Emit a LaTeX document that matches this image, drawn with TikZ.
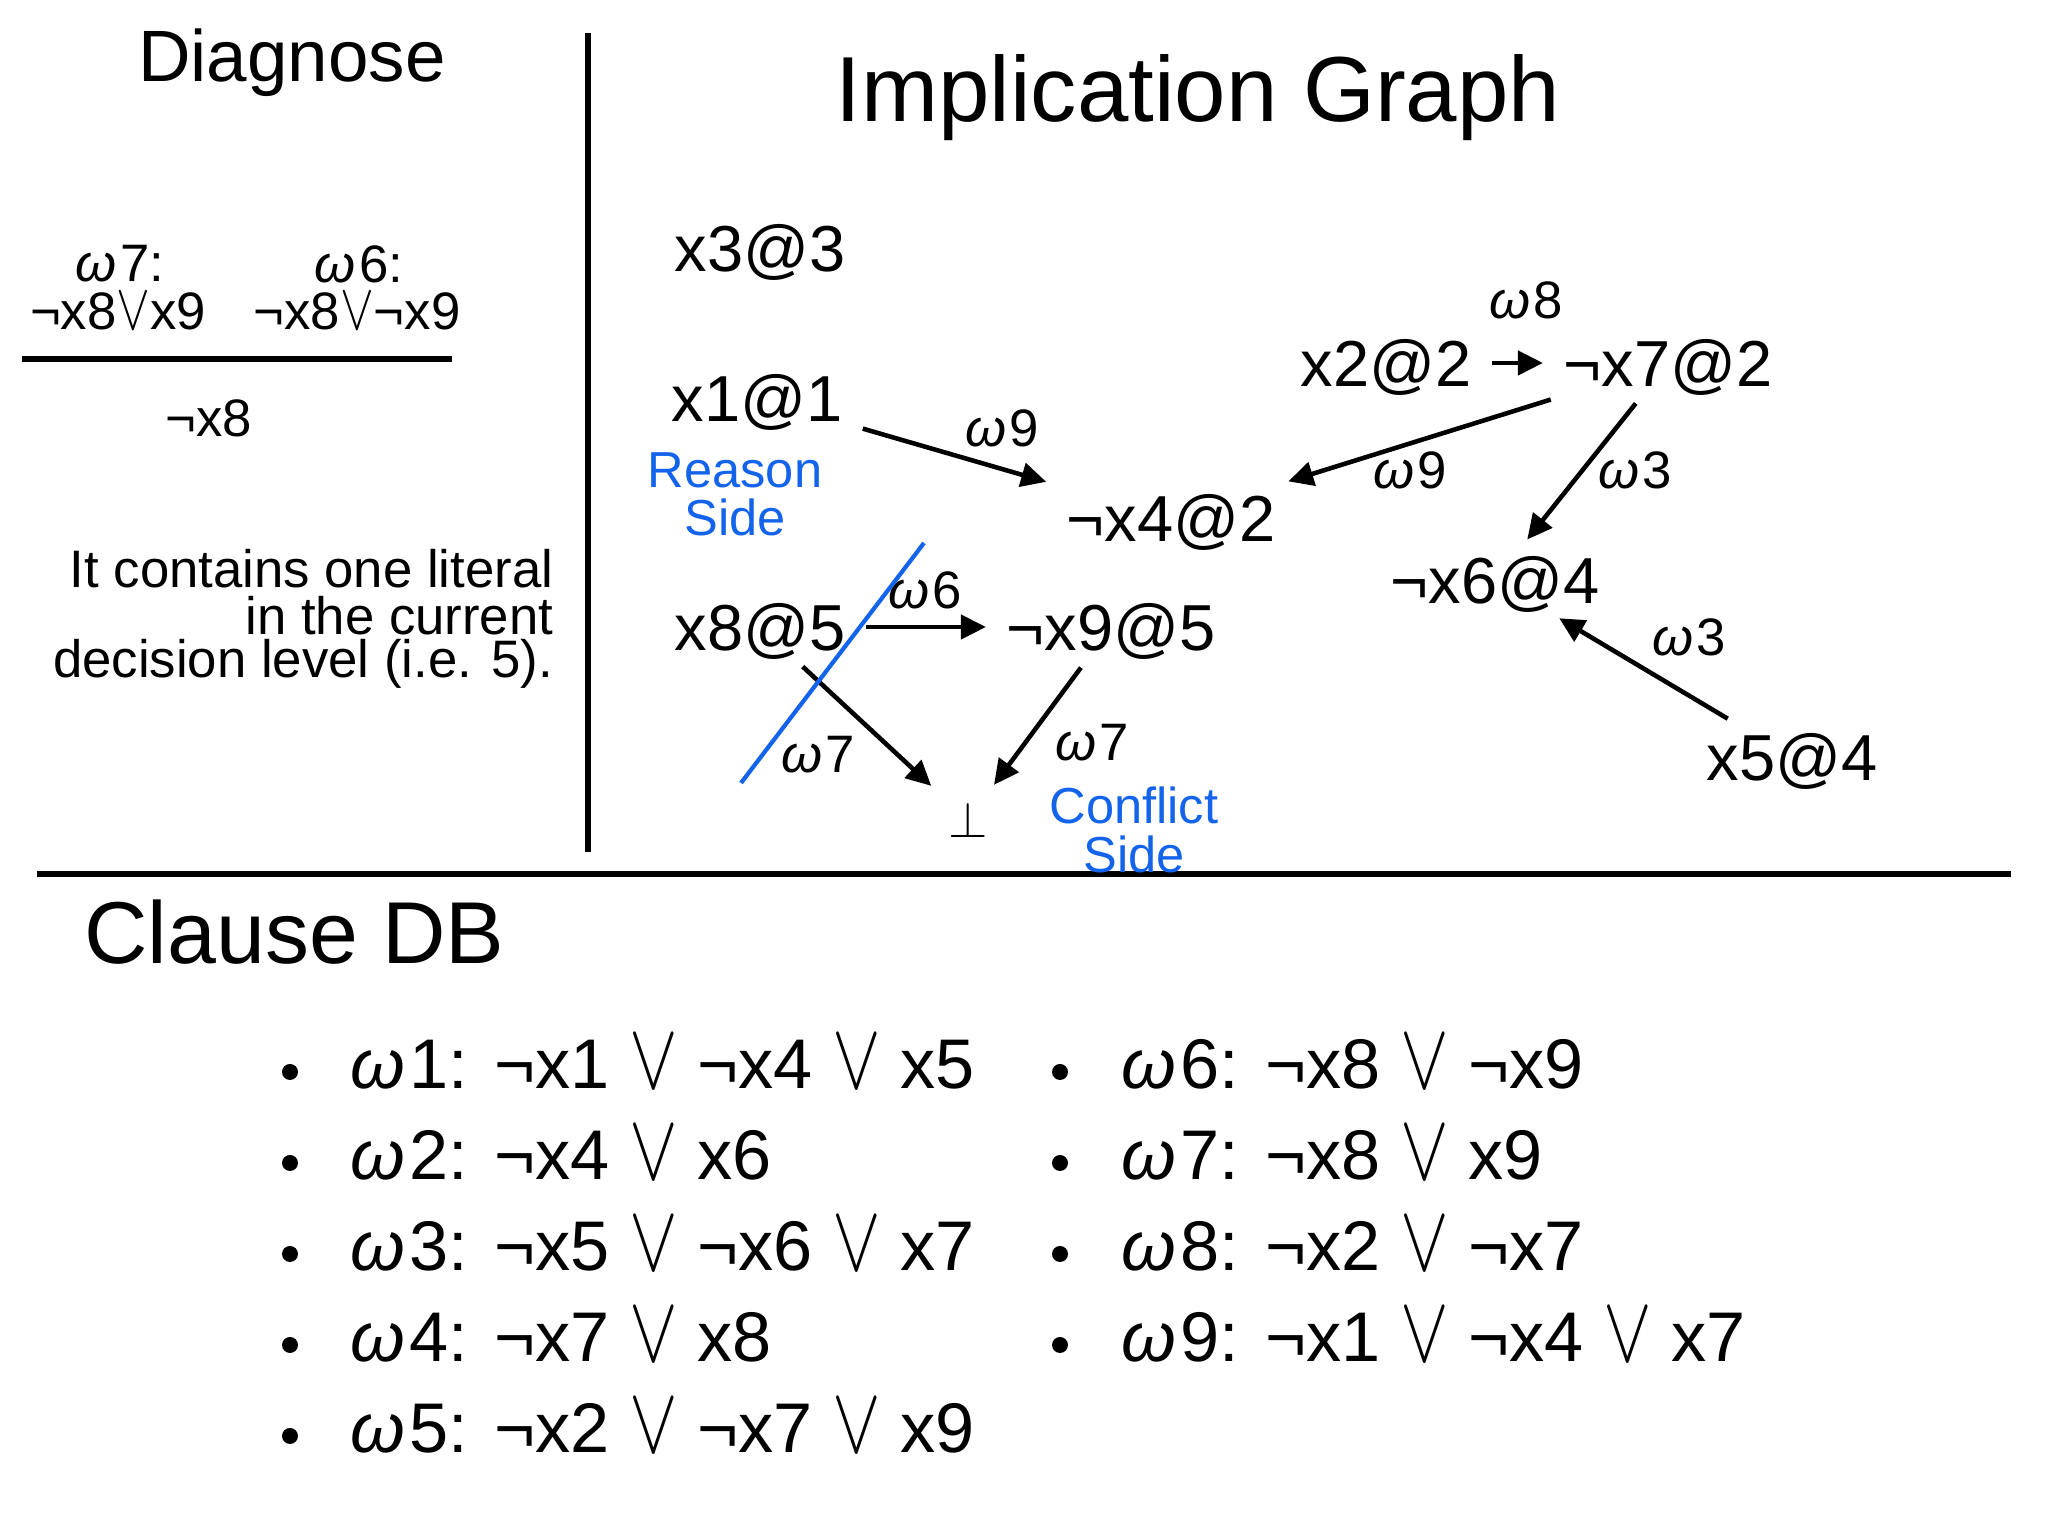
\documentclass[tikz,border=0pt]{standalone}
\usepackage{fontspec}
\setmainfont{Liberation Sans}
\usepackage{xcolor}
\usetikzlibrary{arrows.meta}

\definecolor{seite}{RGB}{20,100,235}
\newcommand{\oder}{\scalebox{1}[1.3]{$\vee$}}
\newcommand{\falsum}{$\bot$}
\newcommand{\om}{\textit{ω}\hspace{.06em}}

\tikzset{
  lit/.style={font=\fontsize{18.5}{22}\selectfont, inner xsep=.12cm, inner ysep=.1cm, text height=.47cm, text depth=0pt},
  wlbl/.style={font=\fontsize{15}{17}\selectfont, inner sep=0pt, text height=.38cm, text depth=0pt},
  impl/.style={line width=1.3pt, -{Triangle[length=.25cm,width=.24cm]}, shorten <=.08cm, shorten >=.08cm},
  seitentext/.style={text=seite, align=center, font=\fontsize{14.4}{13.7}\selectfont},
  klausel/.style={anchor=west, font=\fontsize{20}{24}\selectfont, inner sep=0pt, text height=.5cm, text depth=0pt},
  diagtext/.style={font=\fontsize{15}{17}\selectfont, inner sep=0pt},
  hinweis/.style={anchor=east, inner sep=0pt, font=\fontsize{15}{17}\selectfont},
  regel/.style={line width=1.85pt},
}

\begin{document}
\begin{tikzpicture}
  \useasboundingbox (0,0) rectangle (20.48,15.36);

  % Trennlinien
  \draw[regel] (5.88,15.03) -- (5.88,6.84);
  \draw[regel] (0.37,6.62) -- (20.11,6.62);

  % Diagnose
  \node[font=\fontsize{20.7}{24}\selectfont] (diag) at (2.92,14.73) {Diagnose};
  \node[diagtext] (dw7) at (1.20,12.72) {\om7:};
  \node[diagtext] (dk7) at (1.18,12.25) {¬x8\oder x9};
  \node[diagtext] (dw6) at (3.59,12.72) {\om6:};
  \node[diagtext] (dk6) at (3.57,12.25) {¬x8\oder¬x9};
  \coordinate (strichl) at (0.22,11.77);
  \coordinate (strichr) at (4.52,11.77);
  \draw[regel] (strichl) -- (strichr);
  \node[diagtext] (res) at (2.09,11.18) {¬x8};
  \node[hinweis] (h1) at (5.54,9.67) {It contains one literal};
  \node[hinweis] (h2) at (5.54,9.20) {in the current};
  \node[hinweis] (h3) at (5.54,8.72) {decision level (i.e. 5).};

  % Implikationsgraph
  \node[font=\fontsize{26.3}{30}\selectfont] (titel) at (11.98,14.38) {Implication Graph};

  \node[lit] (x3) at (7.60,12.88) {x3@3};
  \node[lit] (x1) at (7.57,11.38) {x1@1};
  \node[lit] (x2) at (13.86,11.73) {x2@2};
  \node[lit] (x7) at (16.68,11.73) {¬x7@2};
  \node[lit] (x4) at (11.71,10.18) {¬x4@2};
  \node[lit] (x6) at (14.95,9.56) {¬x6@4};
  \node[lit] (x8) at (7.60,9.09) {x8@5};
  \node[lit] (x9) at (11.11,9.09) {¬x9@5};
  \node[lit] (x5) at (17.92,7.79) {x5@4};
  \node[lit, font=\fontsize{15}{17}\selectfont, text height=.36cm] (bot) at (9.68,7.16) {\falsum};

  % Pfeile
  \draw[impl] (x1) -- (x4);
  \draw[impl] (x2) -- (x7);
  \draw[impl] (x7) -- (x4);
  \draw[impl] (x7) -- (x6);
  \draw[impl] (x5) -- (x6);
  \draw[impl] (x8) -- (x9);
  \draw[impl] (x8) -- (bot);
  \draw[impl] (x9) -- (bot);

  % Beschriftungen
  \node[wlbl] (l19) at (10.02,11.08) {\om9};
  \node[wlbl] (l8)  at (15.26,12.36) {\om8};
  \node[wlbl] (l79) at (14.10,10.66) {\om9};
  \node[wlbl] (l73) at (16.35,10.66) {\om3};
  \node[wlbl] (l53) at (16.89,8.99) {\om3};
  \node[wlbl] (l6)  at (9.25,9.46) {\om6};
  \node[wlbl] (l87) at (8.18,7.82) {\om7};
  \node[wlbl] (l97) at (10.92,7.94) {\om7};

  % Schnitt
  \coordinate (schnittu) at (7.41,7.53);
  \coordinate (schnitto) at (9.24,9.93);
  \draw[seite, line width=1.2pt] (schnittu) -- (schnitto);
  \node[seitentext] (reason) at (7.35,10.42) {Reason\\Side};
  \node[seitentext] (conflict) at (11.34,7.06) {Conflict\\Side};

  % Klauseln
  \node[anchor=west, font=\fontsize{25}{30}\selectfont] (db) at (0.72,6.04) {Clause DB};

  \fill (2.90,4.64) circle (.08);
  \fill (2.90,3.73) circle (.08);
  \fill (2.90,2.82) circle (.08);
  \fill (2.90,1.91) circle (.08);
  \fill (2.90,1.00) circle (.08);
  \node[klausel] (k1) at (3.50,4.72) {\om1: ¬x1 \oder{} ¬x4 \oder{} x5};
  \node[klausel] (k2) at (3.50,3.81) {\om2: ¬x4 \oder{} x6};
  \node[klausel] (k3) at (3.50,2.90) {\om3: ¬x5 \oder{} ¬x6 \oder{} x7};
  \node[klausel] (k4) at (3.50,1.99) {\om4: ¬x7 \oder{} x8};
  \node[klausel] (k5) at (3.50,1.08) {\om5: ¬x2 \oder{} ¬x7 \oder{} x9};

  \fill (10.60,4.64) circle (.08);
  \fill (10.60,3.73) circle (.08);
  \fill (10.60,2.82) circle (.08);
  \fill (10.60,1.91) circle (.08);
  \node[klausel] (k6) at (11.21,4.72) {\om6: ¬x8 \oder{} ¬x9};
  \node[klausel] (k7) at (11.21,3.81) {\om7: ¬x8 \oder{} x9};
  \node[klausel] (k8) at (11.21,2.90) {\om8: ¬x2 \oder{} ¬x7};
  \node[klausel] (k9) at (11.21,1.99) {\om9: ¬x1 \oder{} ¬x4 \oder{} x7};

\end{tikzpicture}
\end{document}
